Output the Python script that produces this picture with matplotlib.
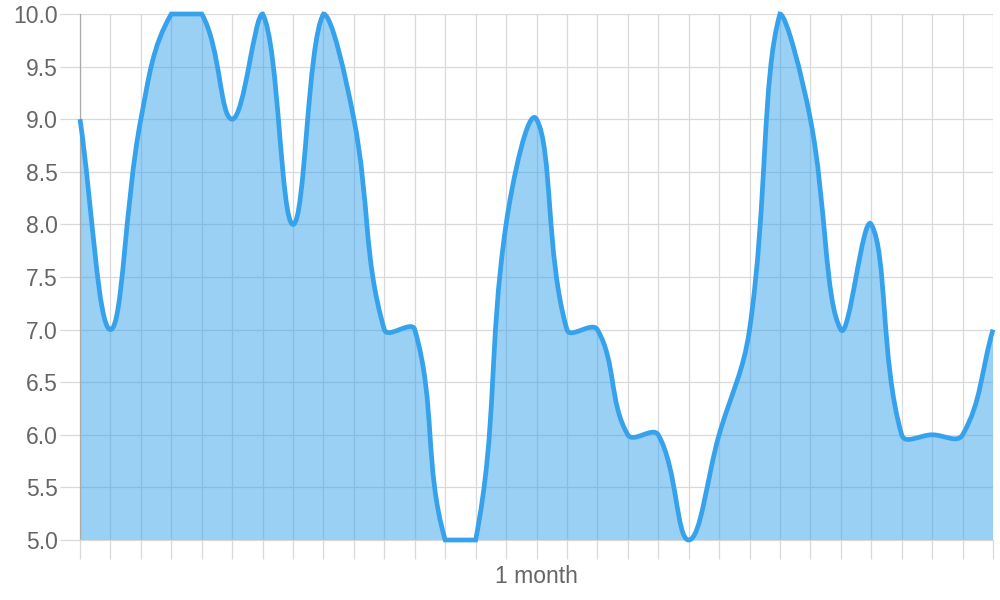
import numpy as np
import matplotlib
matplotlib.use("Agg")
import matplotlib.pyplot as plt
from matplotlib.path import Path
from matplotlib.patches import PathPatch

# data (31 points, one per category)
values = [9, 7, 9, 10, 10, 9, 10, 8, 10, 9,
          7, 7, 5, 5, 8, 9, 7, 7, 6, 6,
          5, 6, 7, 10, 9, 7, 8, 6, 6, 6,
          7]
xLabels = [""] * len(values)
xLabels[15] = "1 month"
yTicks = [5.0, 5.5, 6.0, 6.5, 7.0, 7.5, 8.0, 8.5, 9.0, 9.5, 10.0]

lineColor = "#36a2eb"
fillColor = (54/255, 162/255, 235/255, 0.5)
gridColor = "#d9d9d9"
textColor = "#666666"

plt.rcParams["font.family"] = ["Liberation Sans", "DejaVu Sans"]

W, H, dpi = 1000, 600, 100
fig = plt.figure(figsize=(W/dpi, H/dpi), dpi=dpi)
left, right, bottom, top = 80/W, 993/W, 1-540/H, 1-14/H
ax = fig.add_axes([left, bottom, right-left, top-bottom])

xs = np.arange(len(values), dtype=float)
ys = np.array(values, dtype=float)
xmin, xmax = 0, len(values)-1
ymin, ymax = 5.0, 10.0
ax.set_xlim(xmin, xmax)
ax.set_ylim(ymin, ymax)

# chart.js style bezier (tension 0.4), worked out in pixel space
sx = (right-left)*W/(xmax-xmin)
sy = (top-bottom)*H/(ymax-ymin)
P = np.column_stack([xs*sx, ys*sy])
n = len(P)
tension = 0.4
cpPrev = np.zeros_like(P)
cpNext = np.zeros_like(P)
for i in range(n):
    prev = P[i-1] if i > 0 else P[i]
    nxt = P[i+1] if i < n-1 else P[i]
    d01 = np.hypot(*(P[i]-prev))
    d12 = np.hypot(*(nxt-P[i]))
    tot = d01+d12
    s01 = d01/tot if tot > 0 else 0
    s12 = d12/tot if tot > 0 else 0
    cpPrev[i] = P[i]-tension*s01*(nxt-prev)
    cpNext[i] = P[i]+tension*s12*(nxt-prev)
for cp in (cpPrev, cpNext):
    cp[:, 0] = np.clip(cp[:, 0], xmin*sx, xmax*sx)
    cp[:, 1] = np.clip(cp[:, 1], ymin*sy, ymax*sy)

verts = [P[0]]
codes = [Path.MOVETO]
for i in range(n-1):
    verts += [cpNext[i], cpPrev[i+1], P[i+1]]
    codes += [Path.CURVE4]*3
verts = np.array(verts)/np.array([sx, sy])

fillVerts = np.vstack([verts, [[xmax, ymin], [xmin, ymin], verts[0]]])
fillCodes = codes+[Path.LINETO, Path.LINETO, Path.CLOSEPOLY]
ax.add_patch(PathPatch(Path(fillVerts, fillCodes), facecolor=fillColor,
                       edgecolor="none", zorder=2))
ax.add_patch(PathPatch(Path(verts, codes), facecolor="none",
                       edgecolor=lineColor, lw=3.4, zorder=3, clip_on=False))

ax.set_xticks(xs)
ax.set_xticklabels(xLabels)
ax.set_yticks(yTicks)
ax.set_yticklabels([f"{v:.1f}" for v in yTicks])
ax.grid(True, color=gridColor, lw=0.9, zorder=0)
ax.set_axisbelow(True)

ax.tick_params(axis="y", length=14.4, width=0.9, color=gridColor,
               labelcolor=textColor, labelsize=16.5, pad=1.5)
ax.tick_params(axis="x", length=13.7, width=0.9, color=gridColor,
               labelcolor=textColor, labelsize=16.5, pad=4)
ax.xaxis.get_major_ticks()[0].tick1line.set_color("#aaaaaa")

for s in ["top", "right"]:
    ax.spines[s].set_visible(False)
ax.spines["left"].set_color("#aaaaaa")
ax.spines["left"].set_linewidth(0.9)
ax.spines["bottom"].set_color(gridColor)
ax.spines["bottom"].set_linewidth(0.9)

plt.savefig("out.png", dpi=dpi)
plt.close()
